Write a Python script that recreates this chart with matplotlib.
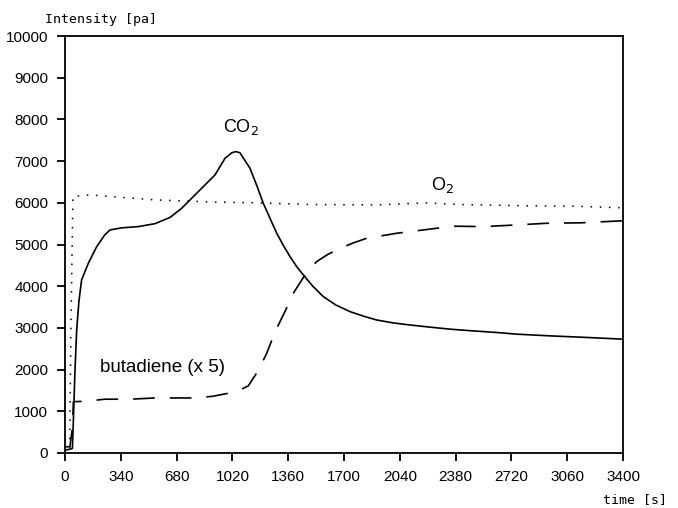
import numpy as np
import matplotlib
matplotlib.use('Agg')
import matplotlib.pyplot as plt

# CO2 (solid line)
co2_t = [0, 30, 45, 51, 60, 71, 85, 101, 142, 193, 240, 274, 345, 447, 548, 640, 711, 792, 914, 975,
         1016, 1040, 1066, 1107, 1127, 1168, 1208, 1250, 1290, 1330, 1371, 1410, 1452, 1510, 1574, 1650,
         1737, 1820, 1899, 2000, 2102, 2220, 2346, 2480, 2630, 2752, 2950, 3158, 3400]
co2_v = [70, 90, 110, 790, 1900, 2950, 3650, 4150, 4550, 4950, 5220, 5350, 5400, 5430, 5500, 5650, 5870,
         6190, 6670, 7070, 7200, 7230, 7200, 6950, 6830, 6420, 5990, 5620, 5270, 4980, 4710, 4480, 4270,
         4000, 3750, 3550, 3390, 3280, 3190, 3120, 3070, 3020, 2970, 2930, 2890, 2850, 2810, 2775, 2730]

# O2 (dotted line)
o2_t = [0, 28, 36, 48, 150, 548, 900, 1158, 1500, 1900, 2200, 2400, 2800, 3100, 3400]
o2_v = [0, 0, 3000, 6150, 6190, 6070, 6020, 6000, 5960, 5950, 6000, 5960, 5930, 5920, 5880]

# butadiene x5 (dashed line)
bd_t = [0, 30, 45, 51, 122, 244, 400, 548, 792, 900, 1005, 1060, 1117, 1178, 1230, 1280, 1340, 1391, 1462,
        1533, 1600, 1655, 1750, 1838, 2021, 2204, 2366, 2549, 2752, 2935, 3138, 3400]
bd_v = [150, 150, 600, 1230, 1240, 1290, 1290, 1320, 1320, 1360, 1440, 1500, 1610, 1980, 2400, 2910, 3390,
        3830, 4270, 4590, 4760, 4870, 5030, 5150, 5270, 5360, 5440, 5430, 5470, 5510, 5520, 5570]

xticks = [0, 340, 680, 1020, 1360, 1700, 2040, 2380, 2720, 3060, 3400]
yticks = list(range(0, 10001, 1000))

fig = plt.figure(figsize=(6.78, 5.08), dpi=100)
ax = fig.add_axes([0.0959, 0.1083, 0.8230, 0.8207])

ax.plot(co2_t, co2_v, color='black', lw=1.2)
ax.plot(o2_t, o2_v, color='black', lw=1.1, linestyle=(0, (1, 5)))
ax.plot(bd_t, bd_v, color='black', lw=1.2, linestyle=(0, (13, 9)))

ax.set_xlim(0, 3400)
ax.set_ylim(0, 10000)
ax.set_xticks(xticks)
ax.set_yticks(yticks)
ax.tick_params(direction='out', length=6, width=1.3, labelsize=11, pad=6)
for lab in ax.get_xticklabels() + ax.get_yticklabels():
    lab.set_family('Liberation Sans')
for s in ax.spines.values():
    s.set_linewidth(1.3)

fig.text(45 / 678, 1 - 20 / 508, 'Intensity [pa]', family='DejaVu Sans Mono', fontsize=9.5,
         va='center', ha='left')
fig.text(667 / 678, 1 - 500 / 508, 'time [s]', family='DejaVu Sans Mono', fontsize=9.5,
         va='center', ha='right')

ax.text(1072, 7820, 'CO$_2$', fontsize=13, ha='center', va='center', family='Liberation Sans')
ax.text(2300, 6430, 'O$_2$', fontsize=13, ha='center', va='center', family='Liberation Sans')
ax.text(213, 2040, 'butadiene (x 5)', fontsize=13.5, ha='left', va='center', family='Liberation Sans')

fig.savefig('out.png', dpi=100)
